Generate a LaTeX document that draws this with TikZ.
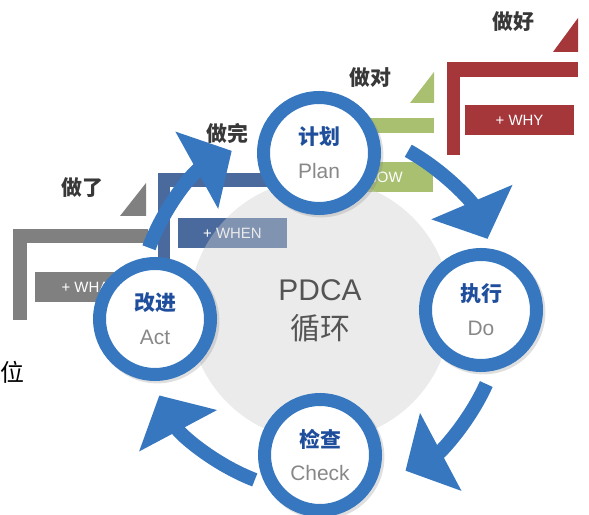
\documentclass[tikz,border=0pt]{standalone}
\usepackage{fontspec}
\setmainfont{Liberation Sans}
\newfontfamily\cjk{Noto Sans CJK SC}
\usetikzlibrary{arrows.meta,shadows}
\definecolor{ringblue}{HTML}{3777BF}
\definecolor{nameblue}{HTML}{1F4E9C}
\definecolor{engray}{HTML}{888888}
\definecolor{stgray}{HTML}{808080}
\definecolor{stblue}{HTML}{4A6A9E}
\definecolor{stgreen}{HTML}{A8C070}
\definecolor{stred}{HTML}{A5363A}
\definecolor{centgray}{HTML}{CECECE}

\begin{document}
\begin{tikzpicture}[x=1bp,y=1bp,
    phase/.style={circle,draw=ringblue,line width=13bp,fill=white,minimum size=111bp,inner sep=0pt,
        align=center,font=\fontsize{21}{34}\selectfont,
        drop shadow={shadow scale=1.12,shadow xshift=2bp,shadow yshift=-2bp,opacity=0.25}},
    cyc/.style={draw=ringblue,line width=14bp,-{Triangle[width=86bp,length=40bp]}},
    tag/.style={inner sep=0pt,minimum width=109bp,minimum height=30bp,text=white,
        font=\fontsize{15}{15}\selectfont},
    stage/.style={font=\cjk\bfseries\fontsize{21}{21}\selectfont,text=black!78}]
                    \useasboundingbox (0,0) rectangle (589,515);

                    \fill[stgray] (13,286) rectangle (27,195);
                    \fill[stgray] (13,286) rectangle (148,272);
                    \fill[stgray] (120,299) -- (146,299) -- (146,332) -- cycle;
                    \node[tag,fill=stgray] (what) at (89.5,228) {+ WHAT};
                    \node[stage] (done) at (82,327) {做了};

                    \fill[stblue] (158,342) rectangle (170,250);
                    \fill[stblue] (158,342) rectangle (291,328);
                    \fill[stblue] (265,355) -- (291,355) -- (291,387) -- cycle;
                    \node[tag,fill=stblue] (when) at (232.5,282) {+ WHEN};
                    \node[stage] (finished) at (227,382) {做完};

                    \fill[stgreen] (305,397) rectangle (318,307);
                    \fill[stgreen] (305,397) rectangle (434,382);
                    \fill[stgreen] (410,412) -- (434,412) -- (434,443) -- cycle;
                    \node[tag,fill=stgreen] (how) at (378,338) {+ HOW};
                    \node[stage] (right) at (370,437) {做对};

                    \fill[stred] (447,453) rectangle (460,360);
                    \fill[stred] (447,453) rectangle (578,438);
                    \fill[stred] (553,463) -- (578,463) -- (578,497) -- cycle;
                    \node[tag,fill=stred] (why) at (519.5,395) {+ WHY};
                    \node[stage] (well) at (513,493) {做好};

                    \node[font=\cjk\fontsize{24}{24}\selectfont] (pos) at (12,143) {位};

                    \coordinate (c) at (320,205);
                    \fill[centgray,opacity=0.41] (c) circle [radius=131];
                    \node[font=\fontsize{30}{30}\selectfont,text=black!67] (pdca) at (320,225) {PDCA};
                    \node[font=\cjk\fontsize{30}{30}\selectfont,text=black!67] (loop) at (320,187) {循环};

                    \draw[cyc] ([shift={(61:182)}]c) arc [start angle=61,end angle=23,radius=182];
                    \draw[cyc] ([shift={(-24:182)}]c) arc [start angle=-24,end angle=-62,radius=182];
                    \draw[cyc] ([shift={(-111:182)}]c) arc [start angle=-111,end angle=-152,radius=182];
                    \draw[cyc] ([shift={(160:182)}]c) arc [start angle=160,end angle=119,radius=182];

                    \node[phase] (plan) at (319,362) {{\cjk\bfseries\color{nameblue}计划}\\{\color{engray}Plan}};
                    \node[phase] (do) at (481,205) {{\cjk\bfseries\color{nameblue}执行}\\{\color{engray}Do}};
                    \node[phase] (check) at (320,60) {{\cjk\bfseries\color{nameblue}检查}\\{\color{engray}Check}};
                    \node[phase] (act) at (155,196) {{\cjk\bfseries\color{nameblue}改进}\\{\color{engray}Act}};
                \end{tikzpicture}
\end{document}
